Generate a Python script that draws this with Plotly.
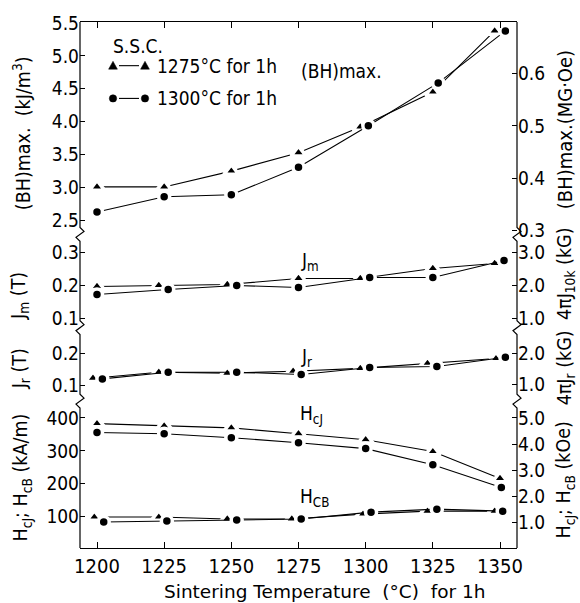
import plotly.graph_objects as go

# ---------------- data ----------------
temps = [1200, 1225, 1250, 1275, 1300, 1325, 1350]
temp_labels = ["1200", "1225", "1250", "1275", "1300", "1325", "1350"]

# (BH)max, kJ/m3
bh_x_1275 = [1200, 1225, 1250, 1275, 1298, 1325, 1348]
bh_1275 = [3.01, 3.01, 3.25, 3.53, 3.92, 4.45, 5.38]
bh_x_1300 = [1200, 1225, 1250, 1275, 1301, 1327, 1352]
bh_1300 = [2.63, 2.86, 2.89, 3.31, 3.94, 4.59, 5.38]

# Jm, T
jm_x_1275 = [1200, 1223, 1248.5, 1275, 1298, 1325, 1348]
jm_1275 = [0.197, 0.200, 0.203, 0.221, 0.221, 0.251, 0.266]
jm_x_1300 = [1200, 1226.5, 1252, 1275, 1301.5, 1325, 1351.5]
jm_1300 = [0.173, 0.188, 0.200, 0.194, 0.224, 0.224, 0.275]

# Jr, T
jr_x_1275 = [1198.5, 1223, 1248.5, 1273, 1298, 1323, 1348.5]
jr_1275 = [0.122, 0.141, 0.138, 0.144, 0.153, 0.169, 0.184]
jr_x_1300 = [1202, 1226.5, 1252, 1276, 1301.5, 1326.5, 1352]
jr_1300 = [0.120, 0.141, 0.141, 0.134, 0.156, 0.159, 0.188]

# HcJ, kA/m
hcj_x_1275 = [1200, 1225, 1250, 1275, 1300, 1325, 1350]
hcj_1275 = [383, 376, 370, 352, 334, 298, 216]
hcj_x_1300 = [1200, 1225, 1250, 1275, 1300, 1325, 1350.5]
hcj_1300 = [356, 352, 340, 325, 307, 258, 189]

# HcB, kA/m
hcb_x_1275 = [1199, 1223, 1248.5, 1272.5, 1299, 1323, 1348]
hcb_1275 = [99, 99, 93, 93, 108, 117, 117]
hcb_x_1300 = [1202.5, 1226, 1252, 1276, 1302, 1326.5, 1351]
hcb_1300 = [84, 87, 90, 93, 114, 123, 117]

# ---------------- layout geometry ----------------
W, H = 580, 603
ML, MR, MT, MB = 80, 63, 18, 55
PW = W - ML - MR
PH = H - MT - MB
TOP, BOT = MT, H - MB
BRK = [232, 326, 400]

FONT = "DejaVu Sans Condensed, Liberation Sans Narrow, DejaVu Sans, sans-serif"
FONT_WIDE = "DejaVu Sans, sans-serif"


def px(xp):
    return (xp - ML) / PW


def py(yp):
    return (BOT - yp) / PH


def rng(v1, p1, v2, p2, top, bot):
    s = (v1 - v2) / (p2 - p1)
    return [v1 - (bot - p1) * s, v1 + (p1 - top) * s]


x_range = [1200 - (97 - ML) * 150 / 403, 1350 + (ML + PW - 500) * 150 / 403]

panels = [
    (rng(5.5, 19, 2.5, 218, TOP, BRK[0]), rng(0.6, 70, 0.3, 228, TOP, BRK[0]),
     [2.5, 3.0, 3.5, 4.0, 4.5, 5.0, 5.5], [0.3, 0.4, 0.5, 0.6], ".1f", ".1f",
     [py(BRK[0]), 1.0]),
    (rng(0.3, 250, 0.1, 317, BRK[0], BRK[1]), rng(3.0, 250, 1.0, 317, BRK[0], BRK[1]),
     [0.1, 0.2, 0.3], [1.0, 2.0, 3.0], ".1f", ".1f",
     [py(BRK[1]), py(BRK[0])]),
    (rng(0.2, 352, 0.1, 384, BRK[1], BRK[2]), rng(2.0, 352, 1.0, 383, BRK[1], BRK[2]),
     [0.1, 0.2], [1.0, 2.0], ".1f", ".1f",
     [py(BRK[2]), py(BRK[1])]),
    (rng(400, 417, 100, 516.5, BRK[2], BOT), rng(5.0, 417, 1.0, 522, BRK[2], BOT),
     [100, 200, 300, 400], [1.0, 2.0, 3.0, 4.0, 5.0], "d", ".1f",
     [0.0, py(BRK[2])]),
]

fig = go.Figure()


def add_series(x, y, yax, symbol):
    fig.add_trace(go.Scatter(
        x=x, y=y, xaxis="x", yaxis=yax, mode="lines+markers",
        line=dict(color="black", width=1.1),
        marker=dict(symbol=symbol, size=13 if symbol == "triangle-up" else 11,
                    color="black", line=dict(color="white", width=3.5)),
        showlegend=False, hoverinfo="skip", cliponaxis=False,
    ))


add_series(bh_x_1275, bh_1275, "y", "triangle-up")
add_series(bh_x_1300, bh_1300, "y", "circle")
add_series(jm_x_1275, jm_1275, "y2", "triangle-up")
add_series(jm_x_1300, jm_1300, "y2", "circle")
add_series(jr_x_1275, jr_1275, "y3", "triangle-up")
add_series(jr_x_1300, jr_1300, "y3", "circle")
add_series(hcj_x_1275, hcj_1275, "y4", "triangle-up")
add_series(hcj_x_1300, hcj_1300, "y4", "circle")
add_series(hcb_x_1275, hcb_1275, "y4", "triangle-up")
add_series(hcb_x_1300, hcb_1300, "y4", "circle")

# dummy traces so the secondary axes get drawn
fig.add_trace(go.Scatter(x=[None], y=[None], xaxis="x2", yaxis="y", showlegend=False, hoverinfo="skip"))
for k in range(5, 9):
    fig.add_trace(go.Scatter(x=[None], y=[None], xaxis="x", yaxis=f"y{k}", showlegend=False, hoverinfo="skip"))

tickcommon = dict(ticks="inside", ticklen=5, tickwidth=1.1, tickcolor="black",
                  showline=False, showgrid=False, zeroline=False,
                  tickfont=dict(family=FONT, size=19, color="black"))

layout = dict(
    width=W, height=H, margin=dict(l=ML, r=MR, t=MT, b=MB),
    paper_bgcolor="white", plot_bgcolor="white",
    font=dict(family=FONT, size=19, color="black"),
    xaxis=dict(domain=[0, 1], anchor="y4", range=x_range, tickvals=temps, ticktext=temp_labels,
               ticks="inside", ticklen=6, tickwidth=1.1, tickcolor="black",
               showline=True, linecolor="black", linewidth=1.2, showgrid=False, zeroline=False,
               tickfont=dict(family=FONT, size=20, color="black")),
    xaxis2=dict(overlaying="x", anchor="y", side="top", range=x_range, tickvals=temps,
                ticks="inside", ticklen=6, tickwidth=1.1, tickcolor="black", showticklabels=False,
                showline=True, linecolor="black", linewidth=1.2, showgrid=False, zeroline=False),
)

for i, (lr, rr, lt, rt, lf, rf, dom) in enumerate(panels):
    n = i + 1
    lname = "yaxis" if n == 1 else f"yaxis{n}"
    layout[lname] = dict(domain=dom, anchor="x", range=lr, tickvals=lt, tickformat=lf, **tickcommon)
    rname = f"yaxis{n + 4}"
    layout[rname] = dict(overlaying="y" if n == 1 else f"y{n}", side="right", anchor="x",
                         range=rr, tickvals=rt, tickformat=rf, **tickcommon)

fig.update_layout(**layout)


# ---------------- axis lines with break zigzags ----------------
def axis_path(xp, sign):
    pts = [(xp, TOP)]
    for b in BRK:
        pts += [(xp, b - 7), (xp + 4 * sign, b - 3), (xp - 4 * sign, b + 3), (xp, b + 7)]
    pts.append((xp, BOT))
    return "M " + " L ".join(f"{px(a):.5f},{py(c):.5f}" for a, c in pts)


shapes = [
    dict(type="path", xref="paper", yref="paper", path=axis_path(ML, 1),
         line=dict(color="black", width=1.2)),
    dict(type="path", xref="paper", yref="paper", path=axis_path(ML + PW, 1),
         line=dict(color="black", width=1.2)),
]


# legend samples
def tri(cx, cy, r=4.4):
    p = [(cx, cy - r), (cx + r, cy + r * 0.8), (cx - r, cy + r * 0.8)]
    return "M " + " L ".join(f"{px(a):.5f},{py(c):.5f}" for a, c in p) + " Z"


def circ(cx, cy, r=3.7):
    return dict(type="circle", xref="paper", yref="paper",
                x0=px(cx - r), x1=px(cx + r), y0=py(cy + r), y1=py(cy - r),
                fillcolor="black", line=dict(color="black", width=0.5))


for cx in (113, 145):
    shapes.append(dict(type="path", xref="paper", yref="paper", path=tri(cx, 62),
                       fillcolor="black", line=dict(color="black", width=0.5)))
    shapes.append(circ(cx, 95))
for cy in (62, 95):
    shapes.append(dict(type="line", xref="paper", yref="paper",
                       x0=px(119), x1=px(139), y0=py(cy), y1=py(cy),
                       line=dict(color="black", width=1.1)))

fig.update_layout(shapes=shapes)


# ---------------- texts ----------------
def ann(text, xp, yp, size=19, angle=0, xanchor="center", family=FONT):
    fig.add_annotation(text=text, xref="paper", yref="paper", x=px(xp), y=py(yp),
                       xanchor=xanchor, yanchor="middle", textangle=angle, showarrow=False,
                       font=dict(family=family, size=size, color="black"))


ann("S.S.C.", 111, 42, xanchor="left")
ann("1275°C for 1h", 155, 62, xanchor="left")
ann("1300°C for 1h", 155, 95, xanchor="left")
ann("(BH)max.", 299, 67, xanchor="left")
ann("J<sub>m</sub>", 299, 259, xanchor="left")
ann("J<sub>r</sub>", 299, 356, xanchor="left")
ann("H<sub>cJ</sub>", 298, 413, xanchor="left")
ann("H<sub>CB</sub>", 298, 497, xanchor="left")

ann("(BH)max.  (kJ/m<sup>3</sup>)", 22, 130, size=19.5, angle=-90)
ann("J<sub>m</sub> (T)", 20, 294, size=19.5, angle=-90)
ann("J<sub>r</sub> (T)", 20, 368, size=19.5, angle=-90)
ann("H<sub>cJ</sub>; H<sub>cB</sub> (kA/m)", 22, 477, size=19.5, angle=-90)

ann("(BH)max.(MG·Oe)", 565, 127, size=20, angle=-90)
ann("4πJ<sub>10k</sub> (kG)", 565, 272, size=19.5, angle=-90)
ann("4πJ<sub>r</sub> (kG)", 565, 367, size=19.5, angle=-90)
ann("H<sub>cJ</sub>; H<sub>cB</sub> (kOe)", 565, 480, size=19.5, angle=-90)

ann("Sintering Temperature  (°C)  for 1h", 324, 592, size=18.5, family=FONT_WIDE)

fig.write_html("out.html")
